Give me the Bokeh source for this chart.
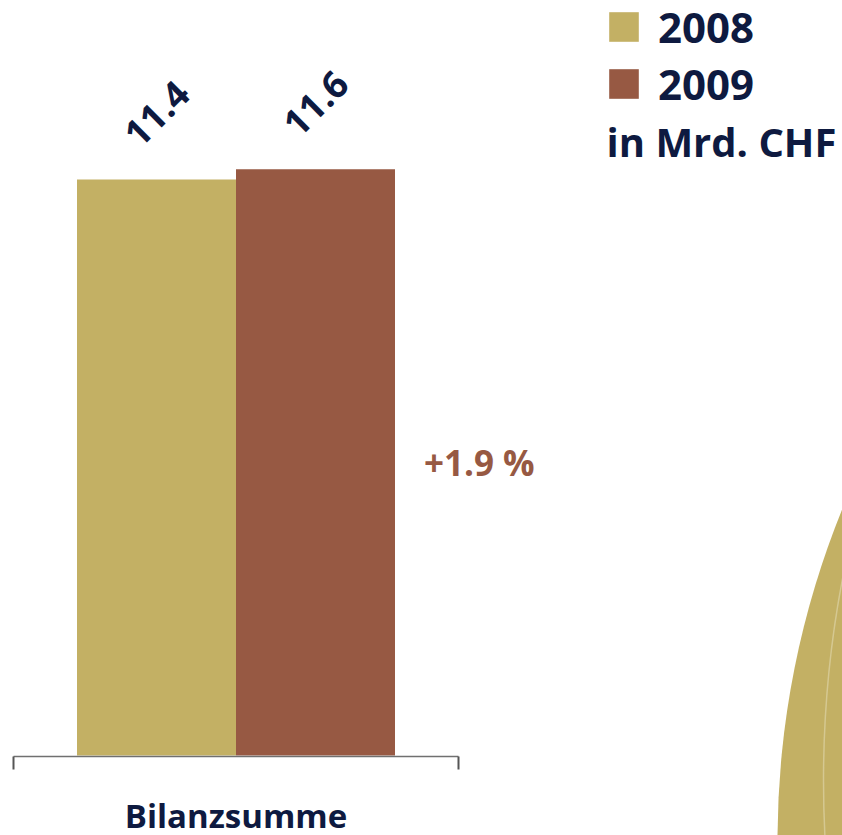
from math import pi

from bokeh.core.properties import value
from bokeh.embed import file_html
from bokeh.models import (ColumnDataSource, FixedTicker, Label, Legend,
                          LegendItem, Range1d)
from bokeh.plotting import figure
from bokeh.resources import INLINE
from bokeh.transform import dodge

# ---------------- data ----------------
categories = ["Bilanzsumme"]
years = ["2008", "2009"]
values_2008 = [11.4]
values_2009 = [11.6]
change_labels = ["+1.9 %"]
unit_label = "in Mrd. CHF"

# ---------------- style ----------------
GOLD = "#c3b064"
BROWN = "#975943"
NAVY = "#0e1a40"
FONT = "Open Sans"

W, H = 842, 835
PX_X = 318.0      # pixels per x unit
PX_Y = 50.53      # pixels per y unit
x_start = -235.5 / PX_X
y_start = -(H - 755) / PX_Y
x_range = Range1d(x_start, x_start + W / PX_X)
y_range = Range1d(y_start, y_start + H / PX_Y)

p = figure(width=W, height=H, x_range=x_range, y_range=y_range,
           output_backend="svg", toolbar_location=None,
           y_axis_location=None, min_border=0)
p.outline_line_color = None
p.xgrid.visible = False
p.ygrid.visible = False
p.background_fill_color = "white"
p.border_fill_color = "white"

# decorative gold disc (part of a neighbouring chart) at the bottom right
p.scatter(x=[x_start + 1657 / PX_X], y=[y_range.end - 840 / PX_Y],
          size=1760, marker="circle", fill_color=GOLD, line_color=None)
p.scatter(x=[x_start + 1893 / PX_X], y=[y_range.end - 780 / PX_Y],
          size=2140, marker="circle", fill_color=None,
          line_color="#d9ce9c", line_width=1.5, line_alpha=0.8)

src = ColumnDataSource(dict(
    x=list(range(len(categories))),
    v08=values_2008,
    v09=values_2009,
    t08=[f"{v:.1f}" for v in values_2008],
    t09=[f"{v:.1f}" for v in values_2009],
    half=[v / 2 for v in values_2009],
    chg=change_labels,
))

r08 = p.vbar(x=dodge("x", -0.25, range=p.x_range), top="v08", bottom=0,
             width=0.5, source=src, fill_color=GOLD, line_color=None)
r09 = p.vbar(x=dodge("x", 0.25, range=p.x_range), top="v09", bottom=0,
             width=0.5, source=src, fill_color=BROWN, line_color=None)

for col, tcol, off in (("v08", "t08", -0.25), ("v09", "t09", 0.25)):
    p.text(x=dodge("x", off, range=p.x_range), y=col, text=tcol, source=src,
           angle=pi / 4, text_align="center", text_baseline="middle",
           y_offset=-66, text_font=value(FONT), text_font_style="bold",
           text_font_size="37px", text_color=NAVY)

p.text(x=dodge("x", 0.5, range=p.x_range), y="half", text="chg", source=src,
       x_offset=29, text_align="left", text_baseline="middle",
       text_font=value(FONT), text_font_style="bold", text_font_size="35px",
       text_color=BROWN)

# axis: bracket under the group
ax = p.xaxis[0]
ax.fixed_location = -0.02
ax.bounds = (-0.7, 0.7)
ax.ticker = FixedTicker(ticks=[0], minor_ticks=[-0.7, 0.7])
ax.major_label_overrides = {0: categories[0]}
ax.major_tick_out = 0
ax.major_tick_in = 0
ax.minor_tick_out = 13
ax.minor_tick_in = 0
ax.minor_tick_line_color = "#555555"
ax.minor_tick_line_width = 2
ax.axis_line_color = "#707070"
ax.axis_line_width = 1.4
ax.major_label_standoff = 23
ax.major_label_text_font = FONT
ax.major_label_text_font_style = "bold"
ax.major_label_text_font_size = "33px"
ax.major_label_text_color = NAVY

legend = Legend(items=[LegendItem(label=years[0], renderers=[r08]),
                       LegendItem(label=years[1], renderers=[r09])],
                location=(605, 723), glyph_width=37, glyph_height=37,
                label_standoff=16, spacing=-6, padding=0, margin=0,
                label_text_font=FONT, label_text_font_style="bold",
                label_text_font_size="42px", label_text_color=NAVY,
                border_line_alpha=0, background_fill_alpha=0)
p.add_layout(legend)

p.add_layout(Label(x=606, y=H - 157 + 16, x_units="screen", y_units="screen",
                   text=unit_label, text_font=FONT, text_font_style="bold",
                   text_font_size="40px", text_color=NAVY,
                   text_baseline="alphabetic"))

open("out.html", "w").write(file_html(p, INLINE))
